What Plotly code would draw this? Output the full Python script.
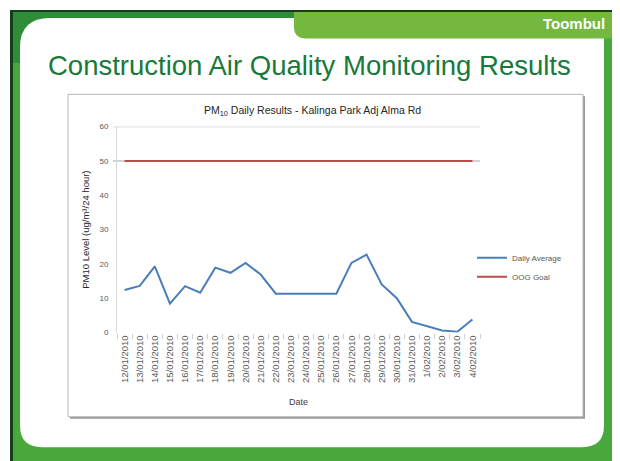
import plotly.graph_objects as go

# ---------------- data ----------------
dates = ["12/01/2010", "13/01/2010", "14/01/2010", "15/01/2010", "16/01/2010",
         "17/01/2010", "18/01/2010", "19/01/2010", "20/01/2010", "21/01/2010",
         "22/01/2010", "23/01/2010", "24/01/2010", "25/01/2010", "26/01/2010",
         "27/01/2010", "28/01/2010", "29/01/2010", "30/01/2010", "31/01/2010",
         "1/02/2010", "2/02/2010", "3/02/2010", "4/02/2010"]
daily_average = [12.4, 13.6, 19.3, 8.4, 13.5, 11.6, 18.9, 17.4, 20.3, 16.9,
                 11.3, 11.3, 11.3, 11.3, 11.3, 20.3, 22.7, 14.0, 10.0, 3.1,
                 1.8, 0.6, 0.2, 3.8]
oog_goal = [50] * len(dates)
y_ticks = [0, 10, 20, 30, 40, 50, 60]

# page body has an 8px margin: figure occupies 8..620 x 8..461 of the window
OFF = 8
W, H = 620 - OFF, 461 - OFF


def px(x):
    return (x - OFF) / W


def py(y):
    return 1 - (y - OFF) / H


def rounded_path(x0, y0, x1, y1, r_tl, r_tr, r_br, r_bl):
    pts = []
    pts.append(f"M {px(x0 + r_tl)},{py(y0)}")
    pts.append(f"L {px(x1 - r_tr)},{py(y0)}")
    pts.append(f"Q {px(x1)},{py(y0)} {px(x1)},{py(y0 + r_tr)}")
    pts.append(f"L {px(x1)},{py(y1 - r_br)}")
    pts.append(f"Q {px(x1)},{py(y1)} {px(x1 - r_br)},{py(y1)}")
    pts.append(f"L {px(x0 + r_bl)},{py(y1)}")
    pts.append(f"Q {px(x0)},{py(y1)} {px(x0)},{py(y1 - r_bl)}")
    pts.append(f"L {px(x0)},{py(y0 + r_tl)}")
    pts.append(f"Q {px(x0)},{py(y0)} {px(x0 + r_tl)},{py(y0)}")
    pts.append("Z")
    return " ".join(pts)


fig = go.Figure()
fig.add_trace(go.Scatter(x=dates, y=daily_average, mode="lines", name="Daily Average",
                         line=dict(color="#4a7ebb", width=2)))
fig.add_trace(go.Scatter(x=dates, y=oog_goal, mode="lines", name="OOG Goal",
                         line=dict(color="#be4b48", width=2)))

shapes = []
# slide frame
shapes.append(dict(type="rect", xref="paper", yref="paper", layer="below",
                   x0=px(10), x1=px(616), y0=py(470), y1=py(6),
                   fillcolor="#163d1c", line=dict(width=0)))
shapes.append(dict(type="rect", xref="paper", yref="paper", layer="below",
                   x0=px(13), x1=px(614), y0=py(470), y1=py(8),
                   fillcolor="#48a83c", line=dict(width=0)))
shapes.append(dict(type="rect", xref="paper", yref="paper", layer="below",
                   x0=px(13), x1=px(300), y0=py(60), y1=py(8),
                   fillcolor="#2f8d37", line=dict(width=0)))
# white panel
shapes.append(dict(type="path", xref="paper", yref="paper", layer="below",
                   path=rounded_path(20, 14, 604, 452, 30, 4, 22, 22),
                   fillcolor="#ffffff", line=dict(width=0)))
# tab
shapes.append(dict(type="path", xref="paper", yref="paper", layer="below",
                   path=rounded_path(294, 8, 614, 35, 0, 0, 0, 12),
                   fillcolor="#74b83f", line=dict(width=0)))
# chart box with shadow
shapes.append(dict(type="rect", xref="paper", yref="paper", layer="below",
                   x0=px(70), x1=px(585), y0=py(423), y1=py(94),
                   fillcolor="#9a9a9a", line=dict(width=0)))
shapes.append(dict(type="rect", xref="paper", yref="paper", layer="below",
                   x0=px(68), x1=px(583), y0=py(421), y1=py(92),
                   fillcolor="#ffffff", line=dict(color="#b5b5b5", width=1)))
# horizontal reference lines (grid at 50 and 60)
for v in (60, 50):
    shapes.append(dict(type="line", xref="paper", yref="y", layer="below",
                       x0=px(113), x1=px(480), y0=v, y1=v,
                       line=dict(color="#a6a6a6", width=1)))

annotations = [
    dict(text="Construction Air Quality Monitoring Results", xref="paper", yref="paper",
         x=px(46), y=py(63), xanchor="left", yanchor="middle", showarrow=False,
         font=dict(family="Liberation Sans", size=27.5, color="#17793a")),
    dict(text="<b>Toombul</b>", xref="paper", yref="paper",
         x=px(607), y=py(20), xanchor="right", yanchor="middle", showarrow=False,
         font=dict(family="Liberation Sans", size=15, color="#ffffff")),
    dict(text="PM<sub>10</sub> Daily Results - Kalinga Park Adj Alma Rd", xref="paper", yref="paper",
         x=px(312), y=py(109), xanchor="center", yanchor="middle", showarrow=False,
         font=dict(family="Liberation Sans", size=10.5, color="#262626")),
]

fig.update_layout(
    width=W, height=H,
    margin=dict(l=0, r=0, t=0, b=0),
    paper_bgcolor="#ffffff", plot_bgcolor="rgba(0,0,0,0)",
    shapes=shapes, annotations=annotations,
    showlegend=True,
    legend=dict(x=px(472), y=py(244), xanchor="left", yanchor="top",
                bgcolor="rgba(0,0,0,0)", itemwidth=30, tracegroupgap=0,
                font=dict(family="Liberation Sans", size=8, color="#595959")),
    xaxis=dict(type="category", domain=[px(117), px(480)], range=[-0.5, len(dates) - 0.5],
               tickangle=-90, tickfont=dict(family="Liberation Sans", size=9.5, color="#595959"),
               ticks="outside", ticklen=5, tickcolor="#d0d0d0", tickson="boundaries",
               showline=False, showgrid=False, zeroline=False,
               title=dict(text="Date", standoff=16,
                          font=dict(family="Liberation Sans", size=9, color="#404040"))),
    yaxis=dict(domain=[py(335), py(125)], range=[0, 60], tickvals=y_ticks,
               tickfont=dict(family="Liberation Sans", size=8, color="#595959"),
               ticks="", showgrid=False, zeroline=False, showline=True,
               linecolor="#d9d9d9", linewidth=1, ticklabelstandoff=6,
               title=dict(text="PM10 Level (ug/m³/24 hour)", standoff=8,
                          font=dict(family="Liberation Sans", size=9.5, color="#262626"))),
)

fig.write_html("out.html")
